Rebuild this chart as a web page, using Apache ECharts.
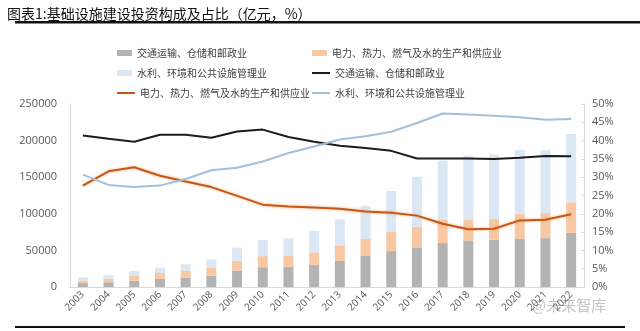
<!DOCTYPE html>
<html>
<head>
<meta charset="utf-8">
<script src="https://cdn.jsdelivr.net/npm/echarts@6/dist/echarts.min.js"></script>
<style>
html,body{margin:0;padding:0;background:#fff;}
#main{width:640px;height:331px;}
</style>
</head>
<body>
<div id="main"></div>
<script>
const years = ['2003','2004','2005','2006','2007','2008','2009','2010','2011','2012','2013','2014','2015','2016','2017','2018','2019','2020','2021','2022'];
// 亿元
const transportInv = [5300,6600,8600,11000,12600,15200,22500,27000,27500,30200,35600,42400,49000,53300,60000,63600,64500,66300,66800,74000];
const powerInv     = [3600,4900,7400,8300,9700,10800,13300,15200,15300,17100,20400,23200,26000,29100,31500,27900,28500,34000,34200,41700];
const waterInv     = [4300,5300,5900,7100,8700,11800,17900,22000,23700,29600,36500,45000,56100,68300,81000,87900,88200,86800,86100,93300];
// %
const transportShare = [41.4,40.5,39.7,41.6,41.6,40.8,42.5,43.0,41.0,39.7,38.6,38.0,37.2,35.1,35.1,35.1,35.0,35.3,35.8,35.7];
const powerShare     = [27.7,31.6,32.7,30.4,28.8,27.3,24.9,22.5,22.0,21.7,21.4,20.6,20.3,19.5,17.3,15.8,15.9,18.2,18.4,19.9];
const waterShare     = [30.7,27.9,27.3,27.7,29.5,31.9,32.6,34.3,36.6,38.4,40.3,41.2,42.4,44.8,47.4,47.1,46.8,46.4,45.7,45.9];
const leftTicks = [0,50000,100000,150000,200000,250000];
const rightTicks = ['0%','5%','10%','15%','20%','25%','30%','35%','40%','45%','50%'];

const N1 = '交通运输、仓储和邮政业';
const N2 = '电力、热力、燃气及水的生产和供应业';
const N3 = '水利、环境和公共设施管理业';
const L1 = N1 + ' ', L2 = N2 + ' ', L3 = N3 + ' ';

const cGray = '#b3b3b3', cPeach = '#f8c8a2', cLBlue = '#dbe7f4';
const cBlack = '#1c1c1c', cOrange = '#c4571a', cBlueLine = '#a3bfd9';

const chart = echarts.init(document.getElementById('main'), null, {renderer:'canvas'});
const txt = {fontSize:10, color:'#404040', fontFamily:'"Noto Sans CJK SC", sans-serif'};
const linePath = 'path://M0,0 L20,0 L20,2.2 L0,2.2 Z';
function lg(name, left, top, icon, w, h){
  return {data:[{name:name, icon:icon}], left:left, top:top, itemWidth:w, itemHeight:h, itemGap:0, padding:0, textStyle:txt, selectedMode:false};
}
chart.setOption({
  animation:false,
  backgroundColor:'#fff',
  title:{text:'图表1:基础设施建设投资构成及占比（亿元，%）', left:2, top:2,
    textStyle:{fontSize:14, fontWeight:'normal', color:'#111', fontFamily:'"Noto Sans CJK SC", sans-serif'}},
  legend:[
    lg(N1,117,48,'rect',15,6),
    lg(N3,117,68,'rect',15,6),
    lg(L2,117,88,linePath,18,6),
    lg(N2,312,48,'rect',15,6),
    lg(L1,312,68,linePath,18,6),
    lg(L3,312,88,linePath,18,6)
  ],
  grid:{left:70, right:56, top:104, bottom:44, containLabel:false},
  xAxis:{type:'category', data:years,
    axisLine:{lineStyle:{color:'#d9d9d9'}}, axisTick:{show:false},
    axisLabel:{rotate:45, fontSize:10, color:'#595959', margin:6, interval:0, fontFamily:'"Open Sans", sans-serif'}},
  yAxis:[
    {type:'value', min:0, max:250000, interval:50000,
      axisLine:{show:true, lineStyle:{color:'#d9d9d9'}}, axisTick:{show:false}, splitLine:{show:false},
      axisLabel:{fontSize:11, color:'#595959', margin:13, fontFamily:'"Open Sans", sans-serif',
        formatter:function(v){return leftTicks.indexOf(v)>=0?String(v):'';}}},
    {type:'value', min:0, max:50, interval:5, position:'right',
      axisLine:{show:true, lineStyle:{color:'#d9d9d9'}}, axisTick:{show:true, inside:true, length:3, lineStyle:{color:'#d9d9d9'}}, splitLine:{show:false},
      axisLabel:{fontSize:11, color:'#595959', margin:8, fontFamily:'"Open Sans", sans-serif',
        formatter:function(v){return rightTicks[Math.round(v/5)];}}}
  ],
  series:[
    {name:N1, type:'bar', stack:'inv', data:transportInv, barWidth:10, itemStyle:{color:cGray}},
    {name:N2, type:'bar', stack:'inv', data:powerInv, barWidth:10, itemStyle:{color:cPeach}},
    {name:N3, type:'bar', stack:'inv', data:waterInv, barWidth:10, itemStyle:{color:cLBlue}},
    {name:L1, type:'line', yAxisIndex:1, data:transportShare, symbol:'none', lineStyle:{color:cBlack, width:2}, itemStyle:{color:cBlack}},
    {name:L2, type:'line', yAxisIndex:1, data:powerShare, symbol:'none', lineStyle:{color:cOrange, width:2, shadowColor:'rgba(245,165,100,0.9)', shadowBlur:3}, itemStyle:{color:cOrange}},
    {name:L3, type:'line', yAxisIndex:1, data:waterShare, symbol:'none', lineStyle:{color:cBlueLine, width:2}, itemStyle:{color:cBlueLine}}
  ],
  graphic:[
    {type:'rect', shape:{x:15, y:21, width:625, height:2.5}, style:{fill:'#111'}, silent:true},
    {type:'rect', shape:{x:15, y:326, width:610, height:2}, style:{fill:'#111'}, silent:true},
    {type:'text', left:532, top:298, style:{text:'@未来智库', fontSize:15, fill:'rgba(150,150,150,0.55)', fontFamily:'"Noto Sans CJK SC", sans-serif'}, silent:true}
  ]
});
</script>
</body>
</html>
